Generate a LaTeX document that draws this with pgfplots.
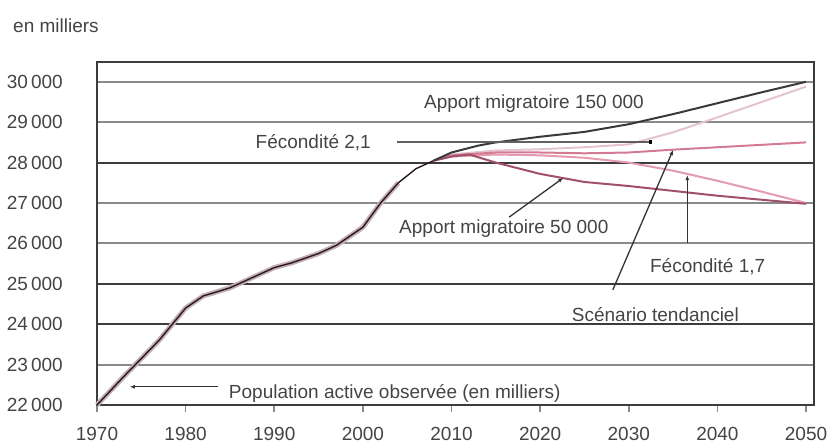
\documentclass[border=0pt]{standalone}
\usepackage{pgfplots}
\pgfplotsset{compat=1.18}
\usepackage{fontspec}
\setmainfont{Liberation Sans}
\usetikzlibrary{arrows.meta}
\definecolor{txt}{HTML}{444444}
\definecolor{gridA}{HTML}{8A8A8A}
\definecolor{gridB}{HTML}{3C3C3C}
\definecolor{shadow}{HTML}{C4B0B4}
\definecolor{obs}{HTML}{2A1A20}
\definecolor{aHigh}{HTML}{3A3A3A}
\definecolor{fHigh}{HTML}{E4C4CC}
\definecolor{tend}{HTML}{D47A92}
\definecolor{fLow}{HTML}{E49AB0}
\definecolor{aLow}{HTML}{A05068}
\newcommand{\lab}{\fontsize{19bp}{22bp}\selectfont\color{txt}}
\begin{document}
\begin{tikzpicture}
\path[use as bounding box] (-97bp,-40bp) rectangle (732bp,405bp);
\begin{axis}[
  at={(0,0)}, anchor=south west,
  scale only axis, width=717bp, height=343bp,
  xmin=1970, xmax=2050.9, ymin=22000, ymax=30490,
  axis line style={draw=gridB, line width=1.6bp},
  xtick={1970,1980,...,2050},
  xtick pos=bottom, tick align=outside,
  x tick style={draw=gridA, line width=1.6bp},
  major tick length=7bp,
  ytick={22000,23000,...,30000},
  y tick style={draw=none},
  scaled y ticks=false,
  ymajorgrids,
  major grid style={draw=gridA, line width=2bp},
  extra y ticks={24000,25000,28000},
  extra y tick labels={},
  extra y tick style={grid=major, major grid style={draw=gridB, line width=2bp}},
  xticklabel={\pgfmathprintnumber[1000 sep={},assume math mode=true]{\tick}},
  yticklabel={\pgfmathprintnumber[fixed,precision=0,1000 sep={\,},assume math mode=true]{\tick}},
  xticklabel style={font=\lab, anchor=north, inner sep=0pt, yshift=-15bp},
  yticklabel style={font=\lab, anchor=east, inner sep=0pt, xshift=-27bp},
  clip=false,
]
% observed population (shadow + line)
\addplot[color=shadow, line width=5bp, line join=round] coordinates {
 (1970,22000) (1973,22700) (1977,23600) (1980,24400) (1982,24700) (1985,24900)
 (1988,25200) (1990,25400) (1992,25520) (1995,25750) (1997,25950) (2000,26400)
 (2002,27000) (2004,27500)};
% projections
\addplot[color=fHigh, line width=2bp] coordinates {
 (2008,28050) (2010,28200) (2015,28300) (2020,28330) (2025,28380) (2030,28450)
 (2035,28750) (2040,29120) (2045,29500) (2050,29880)};
\addplot[color=fLow, line width=2bp] coordinates {
 (2008,28050) (2010,28150) (2015,28200) (2020,28180) (2025,28120) (2030,28000)
 (2035,27800) (2040,27550) (2045,27280) (2050,27000)};
\addplot[color=tend, line width=2bp] coordinates {
 (2008,28050) (2010,28180) (2015,28250) (2020,28250) (2025,28230) (2030,28250)
 (2035,28320) (2040,28380) (2045,28440) (2050,28500)};
\addplot[color=aLow, line width=2bp] coordinates {
 (2008,28050) (2010,28150) (2012,28200) (2015,28000) (2020,27720) (2025,27520)
 (2030,27420) (2035,27300) (2040,27180) (2045,27080) (2050,26980)};
\addplot[color=aHigh, line width=2bp] coordinates {
 (2008,28050) (2010,28250) (2013,28420) (2015,28500) (2020,28640) (2025,28760)
 (2030,28950) (2035,29200) (2040,29470) (2045,29740) (2050,30000)};
\addplot[color=obs, line width=1.4bp, line join=round] coordinates {
 (1970,22000) (1973,22700) (1977,23600) (1980,24400) (1982,24700) (1985,24900)
 (1988,25200) (1990,25400) (1992,25520) (1995,25750) (1997,25950) (2000,26400)
 (2002,27000) (2004,27500) (2006,27850) (2008,28050)};
% annotations
\node[anchor=base, font=\lab] at (axis cs:2019.3,29330) {Apport migratoire 150 000};
\node[anchor=base, font=\lab] at (axis cs:1994.4,28337) {Fécondité 2,1};
\draw[color=gray!75!black, line width=2.5bp, -{Square[length=3bp,width=4bp,black]}] (axis cs:2003.8,28510) -- (axis cs:2032.6,28510);
\node[anchor=base, font=\lab] at (axis cs:2015.9,26257) {Apport migratoire 50 000};
\draw[color=black!80, line width=1.3bp, -{Latex[length=5bp,width=4bp]}] (axis cs:2016.5,26650) -- (axis cs:2022.6,27620);
\node[anchor=base, font=\lab] at (axis cs:2038.9,25292) {Fécondité 1,7};
\draw[color=black!80, line width=1.3bp, -{Latex[length=5bp,width=4bp]}] (axis cs:2036.6,26000) -- (axis cs:2036.6,27690);
\node[anchor=base, font=\lab] at (axis cs:2033,24079) {Scénario tendanciel};
\draw[color=black!80, line width=1.3bp, -{Latex[length=5bp,width=4bp]}] (axis cs:2028.2,24850) -- (axis cs:2035,28310);
\node[anchor=base, font=\lab] at (axis cs:2003.6,22150) {Population active observée (en milliers)};
\draw[color=black!80, line width=1.3bp, {Latex[length=5bp,width=4bp]}-] (axis cs:1973.7,22450) -- (axis cs:1983.6,22450);
\end{axis}
\node[anchor=base west, font=\lab, inner sep=0pt] at (-84bp,372bp) {en milliers};
\end{tikzpicture}
\end{document}
